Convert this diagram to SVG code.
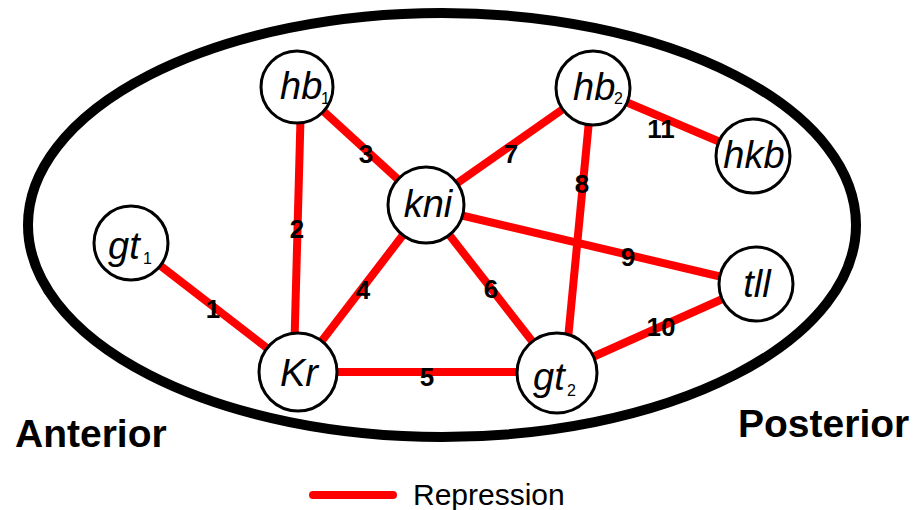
<svg xmlns="http://www.w3.org/2000/svg" width="917" height="510" viewBox="0 0 917 510">
<style>
.edge{stroke:#ff0000;stroke-width:8;fill:none}
.node circle{fill:#fff;stroke:#000;stroke-width:3}
.nt{font-family:"Liberation Sans",Arial,sans-serif;font-style:italic;font-size:38px;fill:#000}
.sub{font-family:"Liberation Sans",Arial,sans-serif;font-size:16px;fill:#000}
.el{font-family:"Liberation Sans",Arial,sans-serif;font-weight:bold;font-size:26px;fill:#000;text-anchor:middle}
.big{font-family:"Liberation Sans",Arial,sans-serif;font-weight:bold;font-size:39px;fill:#000}
</style>
<rect width="917" height="510" fill="#fff"/>
<ellipse cx="442" cy="225" rx="414" ry="212" fill="none" stroke="#000" stroke-width="10"/>
<g id="connectors">
<line class="edge" x1="131" y1="243" x2="298" y2="372"/>
<line class="edge" x1="301" y1="100" x2="294" y2="360"/>
<line class="edge" x1="297" y1="87" x2="426" y2="205"/>
<line class="edge" x1="298" y1="372" x2="426" y2="205"/>
<line class="edge" x1="298" y1="372" x2="557" y2="372"/>
<line class="edge" x1="426" y1="205" x2="557" y2="373"/>
<line class="edge" x1="426" y1="205" x2="593" y2="88"/>
<line class="edge" x1="591" y1="100" x2="566" y2="360"/>
<line class="edge" x1="426" y1="207" x2="756" y2="285"/>
<line class="edge" x1="557" y1="373" x2="756" y2="284"/>
<line class="edge" x1="593" y1="88" x2="753" y2="156"/>
<text class="el" x="213" y="318">1</text>
<text class="el" x="297" y="238">2</text>
<text class="el" x="366" y="163">3</text>
<text class="el" x="363" y="299">4</text>
<text class="el" x="427" y="386">5</text>
<text class="el" x="491" y="298">6</text>
<text class="el" x="511" y="163">7</text>
<text class="el" x="582" y="193">8</text>
<text class="el" x="628" y="266">9</text>
<text class="el" x="661" y="336">10</text>
<text class="el" x="661" y="138">11</text>
</g>
<g id="hb1" class="node"><circle cx="297" cy="87" r="36"/><text class="nt" x="280" y="99">hb</text><text class="sub" x="321" y="104">1</text></g>
<g id="hb2" class="node"><circle cx="593" cy="88" r="37"/><text class="nt" x="573" y="100">hb</text><text class="sub" x="614" y="104">2</text></g>
<g id="gt1" class="node"><circle cx="131" cy="243" r="37"/><text class="nt" x="108" y="259">gt</text><text class="sub" x="143" y="264">1</text></g>
<g id="kni" class="node"><circle cx="426" cy="205" r="38"/><text class="nt" x="428" y="217" text-anchor="middle">kni</text></g>
<g id="hkb" class="node"><circle cx="753" cy="156" r="37"/><text class="nt" x="754" y="168" text-anchor="middle">hkb</text></g>
<g id="tll" class="node"><circle cx="756" cy="284" r="37"/><text class="nt" x="757" y="297" text-anchor="middle">tll</text></g>
<g id="Kr" class="node"><circle cx="298" cy="372" r="39"/><text class="nt" x="299" y="386" text-anchor="middle">Kr</text></g>
<g id="gt2" class="node"><circle cx="557" cy="373" r="40"/><text class="nt" x="533" y="390">gt</text><text class="sub" x="567" y="396">2</text></g>
<text class="big" x="15" y="447">Anterior</text>
<text class="big" x="738" y="437">Posterior</text>
<g id="legend">
<line x1="313" y1="495" x2="393" y2="495" stroke="#ff0000" stroke-width="8" stroke-linecap="round"/>
<text x="413" y="505" font-family="Liberation Sans,Arial,sans-serif" font-size="30" fill="#000">Repression</text>
</g>
</svg>
